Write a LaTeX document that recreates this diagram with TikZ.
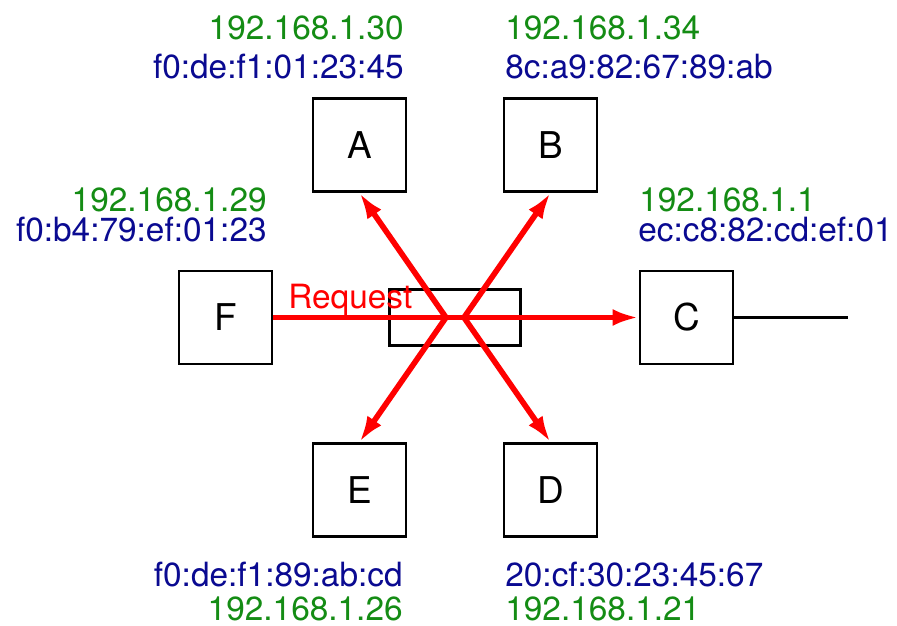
\documentclass[tikz,border=0pt]{standalone}
\usepackage{fontspec}
\setmainfont{TeX Gyre Heros}
\usepackage{xcolor}
\usetikzlibrary{arrows.meta}
\definecolor{ipgreen}{RGB}{20,140,20}
\definecolor{macblue}{RGB}{10,10,145}

\begin{document}
\begin{tikzpicture}[
	host/.style={draw, line width=1.7pt, minimum size=1.86cm, font=\fontsize{21}{25}\selectfont},
	ip/.style={text=ipgreen, inner sep=0pt, font=\fontsize{19}{23}\selectfont},
	mac/.style={text=macblue, inner sep=0pt, font=\fontsize{19}{23}\selectfont},
	req/.style={red, line width=3.2pt, -{Latex[length=0.52cm,width=0.34cm]}}]
	\useasboundingbox (-9.1,-6.17) rectangle (8.84,6.35);

	% hosts and the switch
	\draw[line width=1.7pt]
		node[host] at (-1.91,3.45) (a) {A}
		node[host] at (1.91,3.45) (b) {B}
		node[host] at (4.63,0) (c) {C}
		node[host] at (1.91,-3.45) (d) {D}
		node[host] at (-1.91,-3.45) (e) {E}
		node[host] at (-4.59,0) (f) {F}
		node[draw, minimum width=2.62cm, minimum height=1.12cm] at (0,0) (sw) {}
		coordinate (wan) at (7.86,0)
		(c) -- (wan);

	% addresses
	\node[ip, anchor=base east] at (-1.02,5.55) (a-ip) {192.168.1.30};
	\node[mac, anchor=base east] at (-1.02,4.79) (a-mac) {f0:de:f1:01:23:45};
	\node[ip, anchor=base west] at (1.0,5.55) (b-ip) {192.168.1.34};
	\node[mac, anchor=base west] at (1.0,4.79) (b-mac) {8c:a9:82:67:89:ab};
	\node[ip, anchor=base west] at (3.68,2.11) (c-ip) {192.168.1.1};
	\node[mac, anchor=base west] at (3.66,1.51) (c-mac) {ec:c8:82:cd:ef:01};
	\node[mac, anchor=base west] at (1.0,-5.37) (d-mac) {20:cf:30:23:45:67};
	\node[ip, anchor=base west] at (1.0,-6.05) (d-ip) {192.168.1.21};
	\node[mac, anchor=base east] at (-1.04,-5.37) (e-mac) {f0:de:f1:89:ab:cd};
	\node[ip, anchor=base east] at (-1.04,-6.05) (e-ip) {192.168.1.26};
	\node[ip, anchor=base east] at (-3.76,2.11) (f-ip) {192.168.1.29};
	\node[mac, anchor=base east] at (-3.76,1.51) (f-mac) {f0:b4:79:ef:01:23};

	% flooded request
	\coordinate (fl) at (-0.18,0);
	\coordinate (fr) at (0.18,0);
	\draw[req] (f) -- (c)
		node[at start, anchor=base west, xshift=0.24cm, yshift=0.19cm, text=red, inner sep=0pt, font=\fontsize{19}{23}\selectfont] (req) {Request};
	\draw[req] (fl) -- (a.south);
	\draw[req] (fl) -- (e.north);
	\draw[req] (fr) -- (b.south);
	\draw[req] (fr) -- (d.north);
\end{tikzpicture}
\end{document}
